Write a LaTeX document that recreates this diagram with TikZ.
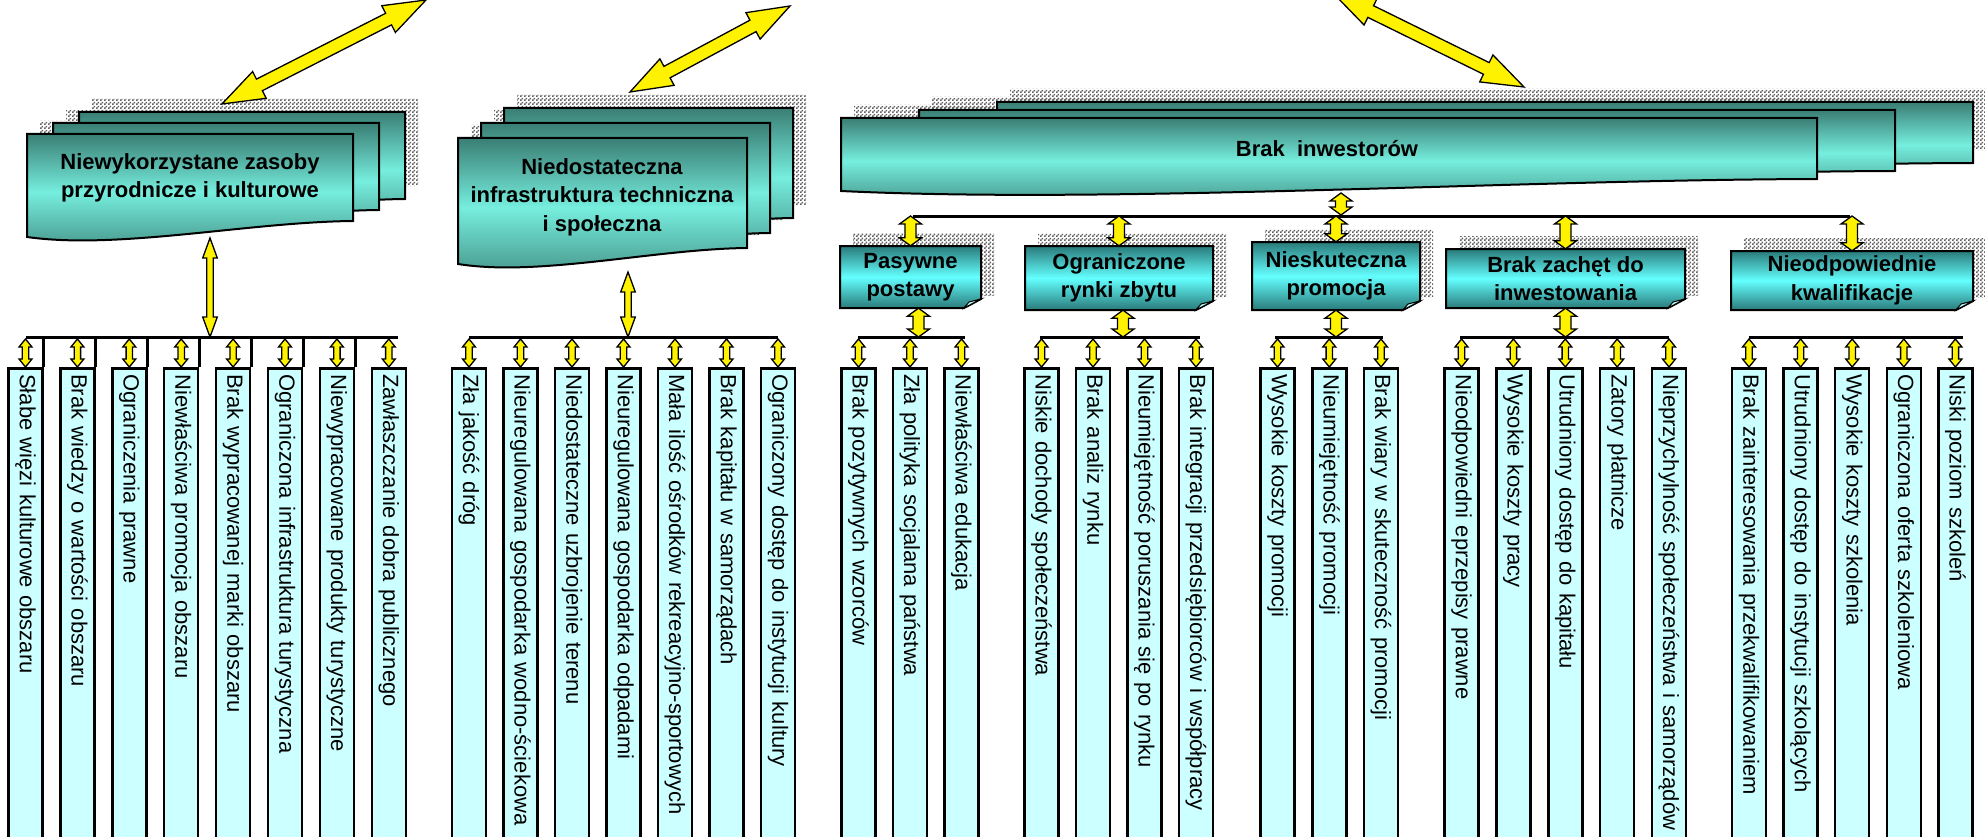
\documentclass[tikz,border=0pt]{standalone}
\usepackage{fontspec}
\setmainfont{Liberation Sans}
\usetikzlibrary{calc,patterns}

\definecolor{tealdark}{RGB}{58,126,116}
\definecolor{teallight}{RGB}{118,238,222}
\definecolor{carddark}{RGB}{42,122,122}
\definecolor{cardcyan}{RGB}{100,255,255}
\definecolor{leafcyan}{RGB}{204,255,255}
\definecolor{checkgray}{RGB}{95,95,95}

\pgfdeclarepatternformonly{finecheck}{\pgfpointorigin}{\pgfpoint{4pt}{4pt}}{\pgfpoint{4pt}{4pt}}{%
  \pgfpathrectangle{\pgfpointorigin}{\pgfpoint{2pt}{2pt}}%
  \pgfpathrectangle{\pgfpoint{2pt}{2pt}}{\pgfpoint{2pt}{2pt}}%
  \pgfusepath{fill}}

\tikzset{
    shadowpat/.style = {pattern=finecheck, pattern color=checkgray},
    layer/.style = {draw=black, line width=2pt, top color=tealdark, bottom color=tealdark!80!teallight, middle color=teallight},
    stacktext/.style = {font=\bfseries\fontsize{22}{28.5}\selectfont, align=center},
    card/.style = {draw=black, line width=2pt, top color=carddark, bottom color=carddark, middle color=cardcyan},
    fold/.style = {draw=black, line width=1pt, fill=cardcyan!45!white},
    cardtext/.style = {font=\bfseries\fontsize{22}{28.5}\selectfont, align=center, inner sep=0pt},
    leafbox/.style = {draw=black, line width=2.5pt, fill=leafcyan, rotate=-90, anchor=west, minimum height=34pt, inner xsep=6pt, inner ysep=0pt, text width=478pt, align=left, font=\fontsize{22}{26}\selectfont},
    fatarrow/.style = {draw=black, line width=1.3pt, fill=yellow, line join=miter},
    bracket/.style = {line width=3pt}
}

% document shape with wavy bottom: style, x, y, width, right height, drop
\newcommand{\wavylayer}[6]{%
  \path[#1] ({#2},{#3}) -- ({#2+#4},{#3}) -- ({#2+#4},{#3+#5})
    .. controls ({#2+0.68*#4},{#3+#5+1}) and ({#2+0.28*#4},{#3+#5+#6+13}) .. ({#2},{#3+#5+#6}) -- cycle;}

% three stacked layers with their shadows
\newcommand{\layerstack}[7]{%
  \foreach \k in {2,1,0}
    {\wavylayer{shadowpat}{#1+\k*#5+13}{#2-\k*#6-13}{#3}{#4}{#7}}
  \foreach \k in {2,1,0}
    {\wavylayer{layer}{#1+\k*#5}{#2-\k*#6}{#3}{#4}{#7}}}

% card with folded corner: name, left, top, right, bottom, text
\newcommand{\causecard}[6]{%
  \path[shadowpat] ({#2+13},{#3-13}) rectangle ({#4+13},{#5-13});
  \path[card] (#2,#3) -- (#4,#3) -- (#4,{#5-9}) -- ({#4-17},#5) -- (#2,#5) -- cycle;
  \path[fold] (#4,{#5-9}) -- ({#4-17},#5) -- ({#4-12},{#5-6}) -- cycle;
  \node (#1) [cardtext, minimum width={#4-#2}, minimum height={#5-#3}] at ({(#2+#4)/2},{(#3+#5)/2}) {#6};}

% double block arrow: tip, tip, shaft half width, head half width, head length
\newcommand{\fatarrow}[5]{%
  \coordinate (fa-a) at ($(#1)!#5!(#2)$);
  \coordinate (fa-b) at ($(#2)!#5!(#1)$);
  \path[fatarrow] (#1) -- ($(fa-a)!#4!90:(#2)$) -- ($(fa-a)!#3!90:(#2)$)
    -- ($(fa-b)!#3!-90:(#1)$) -- ($(fa-b)!#4!-90:(#1)$) -- (#2)
    -- ($(fa-b)!#4!90:(#1)$) -- ($(fa-b)!#3!90:(#1)$)
    -- ($(fa-a)!#3!-90:(#2)$) -- ($(fa-a)!#4!-90:(#2)$) -- cycle;}

% vertical cause box with its small arrow
\newcommand{\leaf}[3]{%
  \node (#1) [leafbox] at (#2,367) {#3};
  \coordinate (#1-up) at ($(#1.west)+(0,-28)$);
  \fatarrow{#1-up}{#1.west}{3.2pt}{6.5pt}{8pt}}

\begin{document}
\begin{tikzpicture}[x=1pt, y=-1pt]
\fill[white] (0,0) rectangle (1985,837);
\useasboundingbox (0,0) rectangle (1985,837);

% main problems
\layerstack{27}{134}{326}{87}{26}{11}{16}
\layerstack{458}{138}{289}{110}{23}{15}{16}
\layerstack{841}{118}{976}{61}{78}{8}{12}
\node (zasoby) [stacktext] at (190,178) {Niewykorzystane zasoby\\przyrodnicze i kulturowe};
\node (infra) [stacktext] at (602,197) {Niedostateczna\\infrastruktura techniczna\\i społeczna};
\node (inwestorzy) [stacktext] at (1327,149) {Brak\ \ inwestorów};

% arrows going up out of the picture
\coordinate (zasoby-in) at (222,104);
\coordinate (zasoby-far) at (426,0);
\coordinate (infra-in) at (630,92);
\coordinate (infra-far) at (790,6);
\coordinate (inwestorzy-in) at (1524,87);
\coordinate (inwestorzy-far) at (1333,-7);
\fatarrow{zasoby-in}{zasoby-far}{6.5pt}{15pt}{42pt}
\fatarrow{infra-in}{infra-far}{6.5pt}{15pt}{42pt}
\fatarrow{inwestorzy-in}{inwestorzy-far}{6.5pt}{15pt}{42pt}

% causes of missing investors
\causecard{pasywne}{840}{246}{981}{308}{Pasywne\\postawy}
\causecard{rynki}{1025}{246}{1213}{310}{Ograniczone\\rynki zbytu}
\causecard{promocja}{1252}{242}{1420}{310}{Nieskuteczna\\promocja}
\causecard{zachety}{1446}{249}{1685}{308}{Brak zachęt do\\inwestowania}
\causecard{kwalif}{1731}{251}{1973}{310}{Nieodpowiednie\\kwalifikacje}

\coordinate (top-l) at (913,216);
\coordinate (top-r) at (1850,216);
\draw[bracket] (top-l) -- (top-r);
\coordinate (inwestorzy-out) at (1341,193);
\coordinate (top-in) at (1341,215);
\fatarrow{inwestorzy-out}{top-in}{5.5pt}{11pt}{8pt}
\coordinate (pasywne-in) at (pasywne.north |- top-l);
\coordinate (rynki-in) at (rynki.north |- top-l);
\coordinate (promocja-in) at (promocja.north |- top-l);
\coordinate (zachety-in) at (zachety.north |- top-l);
\coordinate (kwalif-in) at (kwalif.north |- top-l);
\fatarrow{pasywne-in}{pasywne.north}{5.5pt}{11pt}{8pt}
\fatarrow{rynki-in}{rynki.north}{5.5pt}{11pt}{8pt}
\fatarrow{promocja-in}{promocja.north}{5.5pt}{11pt}{8pt}
\fatarrow{zachety-in}{zachety.north}{5.5pt}{11pt}{8pt}
\fatarrow{kwalif-in}{kwalif.north}{5.5pt}{11pt}{8pt}

% brackets over the detailed causes
\coordinate (g1-l) at (26,337);  \coordinate (g1-r) at (398,337);
\coordinate (g2-l) at (469,337); \coordinate (g2-r) at (778,337);
\coordinate (g3-l) at (858,337); \coordinate (g3-r) at (965,337);
\coordinate (g4-l) at (1040,337); \coordinate (g4-r) at (1200,337);
\coordinate (g5-l) at (1275,337); \coordinate (g5-r) at (1383,337);
\coordinate (g6-l) at (1460,337); \coordinate (g6-r) at (1669,337);
\coordinate (g7-l) at (1749,337); \coordinate (g7-r) at (1963,337);
\draw[bracket] (g1-l) -- (g1-r);
\draw[bracket] (g2-l) -- (g2-r);
\draw[bracket] (g3-l) -- (g3-r);
\draw[bracket] (g4-l) -- (g4-r);
\draw[bracket] (g5-l) -- (g5-r);
\draw[bracket] (g6-l) -- (g6-r);
\draw[bracket] (g7-l) -- (g7-r);

\coordinate (zasoby-out) at (210,238);
\coordinate (g1-in) at (210,337);
\fatarrow{zasoby-out}{g1-in}{3.3pt}{7.3pt}{20pt}
\coordinate (infra-out) at (628,272);
\coordinate (g2-in) at (628,337);
\fatarrow{infra-out}{g2-in}{3.3pt}{7.3pt}{20pt}
\coordinate (pasywne-out) at ([xshift=8pt]pasywne.south);
\coordinate (g3-in) at (pasywne-out |- g3-l);
\fatarrow{pasywne-out}{g3-in}{5.5pt}{11pt}{8pt}
\coordinate (rynki-out) at ([xshift=4pt]rynki.south);
\coordinate (g4-in) at (rynki-out |- g4-l);
\fatarrow{rynki-out}{g4-in}{5.5pt}{11pt}{8pt}
\coordinate (promocja-out) at (promocja.south);
\coordinate (g5-in) at (promocja-out |- g5-l);
\fatarrow{promocja-out}{g5-in}{5.5pt}{11pt}{8pt}
\coordinate (zachety-out) at (zachety.south);
\coordinate (g6-in) at (zachety-out |- g6-l);
\fatarrow{zachety-out}{g6-in}{5.5pt}{11pt}{8pt}

% detailed causes
\leaf{g1-1}{25.5}{Słabe więzi kulturowe obszaru}
\leaf{g1-2}{77.4}{Brak wiedzy o wartości obszaru}
\leaf{g1-3}{129.3}{Ograniczenia prawne}
\leaf{g1-4}{181.2}{Niewłaściwa promocja obszaru}
\leaf{g1-5}{233.1}{Brak wypracowanej marki obszaru}
\leaf{g1-6}{285}{Ograniczona infrastruktura turystyczna}
\leaf{g1-7}{336.9}{Niewypracowane produkty turystyczne}
\leaf{g1-8}{388.8}{Zawłaszczanie dobra publicznego}
\foreach \i in {1,...,7}
  \draw[bracket] (g1-\i.north west) -- (g1-\i.north west |- g1-l);

\leaf{g2-1}{469}{Zła jakość dróg}
\leaf{g2-2}{520.5}{Nieuregulowana gospodarka wodno-ściekowa}
\leaf{g2-3}{572}{Niedostateczne uzbrojenie terenu}
\leaf{g2-4}{623.5}{Nieuregulowana gospodarka odpadami}
\leaf{g2-5}{675}{Mała ilość ośrodków rekreacyjno-sportowych}
\leaf{g2-6}{726.5}{Brak kapitału w samorządach}
\leaf{g2-7}{778}{Ograniczony dostęp do instytucji kultury}

\leaf{g3-1}{858.5}{Brak pozytywnych wzorców}
\leaf{g3-2}{910}{Zła polityka socjalana państwa}
\leaf{g3-3}{961.5}{Niewłaściwa edukacja}

\leaf{g4-1}{1041.5}{Niskie dochody społeczeństwa}
\leaf{g4-2}{1093}{Brak analiz rynku}
\leaf{g4-3}{1144.5}{Nieumiejętność poruszania się po rynku}
\leaf{g4-4}{1196}{Brak integracji przedsiębiorców i współpracy}

\leaf{g5-1}{1277.5}{Wysokie koszty promocji}
\leaf{g5-2}{1329.3}{Nieumiejętność promocji}
\leaf{g5-3}{1381}{Brak wiary w skuteczność promocji}

\leaf{g6-1}{1461.5}{Nieodpowiedni eprzepisy prawne}
\leaf{g6-2}{1513.4}{Wysokie koszty pracy}
\leaf{g6-3}{1565.3}{Utrudniony dostęp do kapitału}
\leaf{g6-4}{1617.2}{Zatory płatnicze}
\leaf{g6-5}{1669}{Nieprzychylność społeczeństwa i samorządów}

\leaf{g7-1}{1749}{Brak zainteresowania przekwalifikowaniem}
\leaf{g7-2}{1800.6}{Utrudniony dostęp do instytucji szkolących}
\leaf{g7-3}{1852.2}{Wysokie koszty szkolenia}
\leaf{g7-4}{1903.8}{Ograniczona oferta szkoleniowa}
\leaf{g7-5}{1955.4}{Niski poziom szkoleń}
\end{tikzpicture}
\end{document}
